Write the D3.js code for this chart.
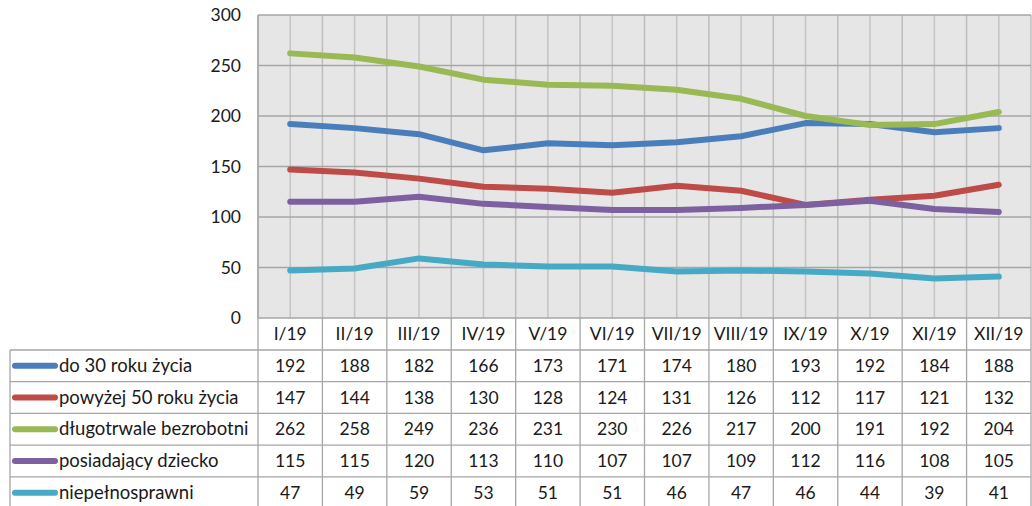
<!DOCTYPE html>
<html><head><meta charset="utf-8">
<script src="https://cdn.jsdelivr.net/npm/d3@7"></script>
<style>body{margin:0;background:#fff}svg{display:block}text{font-family:Lato,"Noto Sans",sans-serif;fill:#1a1a1a}</style>
</head><body><svg id="c" width="1032" height="506"></svg>
<script>
const categories = ["I/19","II/19","III/19","IV/19","V/19","VI/19","VII/19","VIII/19","IX/19","X/19","XI/19","XII/19"];
const seriesNames = ["do 30 roku życia","powyżej 50 roku życia","długotrwale bezrobotni","posiadający dziecko","niepełnosprawni"];
const do30 = [192,188,182,166,173,171,174,180,193,192,184,188];
const pow50 = [147,144,138,130,128,124,131,126,112,117,121,132];
const dlugo = [262,258,249,236,231,230,226,217,200,191,192,204];
const dziecko = [115,115,120,113,110,107,107,109,112,116,108,105];
const niepeln = [47,49,59,53,51,51,46,47,46,44,39,41];
const yTicks = [0,50,100,150,200,250,300];
const colors = ["#4a7ebb","#be4b48","#98b954","#7d60a0","#46aac5"];
const series = [do30,pow50,dlugo,dziecko,niepeln];

const svg = d3.select("#c");
const L=258, R=1031, T=15, B=318;
const x = d3.scaleBand().domain(categories).range([L,R]);
const y = d3.scaleLinear().domain([0,300]).range([B,T]);

svg.append("rect").attr("x",L).attr("y",T).attr("width",R-L).attr("height",B-T).attr("fill","#e6e6e6");
const g = svg.append("g");
categories.forEach(c=>{
  g.append("line").attr("x1",x(c)+x.bandwidth()/2).attr("x2",x(c)+x.bandwidth()/2).attr("y1",T).attr("y2",B).attr("stroke","#c4c4c4").attr("stroke-width",1.5);
  g.append("line").attr("x1",x(c)).attr("x2",x(c)).attr("y1",T).attr("y2",B).attr("stroke","#bdbdbd").attr("stroke-width",1.5);
});
g.append("line").attr("x1",R).attr("x2",R).attr("y1",T).attr("y2",B).attr("stroke","#bdbdbd").attr("stroke-width",1.5);
yTicks.forEach(t=>{
  g.append("line").attr("x1",L).attr("x2",R).attr("y1",y(t)).attr("y2",y(t)).attr("stroke","#a6a6a6").attr("stroke-width",1.5);
});
g.append("line").attr("x1",L).attr("x2",L).attr("y1",T).attr("y2",B).attr("stroke","#a6a6a6").attr("stroke-width",1.5);

const yAxis = d3.axisLeft(y).tickValues(yTicks).tickSize(0).tickPadding(17);
const ya = svg.append("g").attr("transform",`translate(${L},0)`).call(yAxis);
ya.select(".domain").remove();
ya.selectAll("text").attr("font-size",17.5).style("font-family","Lato,'Noto Sans',sans-serif").attr("fill","#1a1a1a");

const line = d3.line().x((d,i)=>x(categories[i])+x.bandwidth()/2).y(d=>y(d));
series.forEach((s,k)=>{
  svg.append("path").datum(s).attr("d",line).attr("fill","none").attr("stroke",colors[k]).attr("stroke-width",6).attr("stroke-linecap","round").attr("stroke-linejoin","round");
});

const rowH = 31.7, headB = 350, TL = 10;
const tb = svg.append("g");
const bc = "#a6a6a6";
categories.forEach(c=>{
  tb.append("text").attr("x",x(c)+x.bandwidth()/2).attr("y",(B+headB)/2+6).attr("text-anchor","middle").attr("font-size",17.5).text(c);
});
for(let r=0;r<=5;r++){
  const yy = headB + r*rowH;
  tb.append("line").attr("x1",TL).attr("x2",R).attr("y1",yy).attr("y2",yy).attr("stroke",bc).attr("stroke-width",1.3);
}
const tableBottom = headB + 5*rowH;
categories.forEach(c=>{
  tb.append("line").attr("x1",x(c)).attr("x2",x(c)).attr("y1",B).attr("y2",tableBottom).attr("stroke",bc).attr("stroke-width",1.3);
});
tb.append("line").attr("x1",R).attr("x2",R).attr("y1",B).attr("y2",tableBottom).attr("stroke",bc).attr("stroke-width",1.3);
tb.append("line").attr("x1",TL).attr("x2",TL).attr("y1",headB).attr("y2",tableBottom).attr("stroke",bc).attr("stroke-width",1.3);
series.forEach((s,k)=>{
  const cy = headB + k*rowH + rowH/2;
  tb.append("line").attr("x1",15).attr("x2",55).attr("y1",cy).attr("y2",cy).attr("stroke",colors[k]).attr("stroke-width",6).attr("stroke-linecap","round");
  tb.append("text").attr("x",59).attr("y",cy+6).attr("font-size",18.5).text(seriesNames[k]);
  s.forEach((v,i)=>{
    tb.append("text").attr("x",x(categories[i])+x.bandwidth()/2).attr("y",cy+6).attr("text-anchor","middle").attr("font-size",17.5).text(v);
  });
});
</script></body></html>
